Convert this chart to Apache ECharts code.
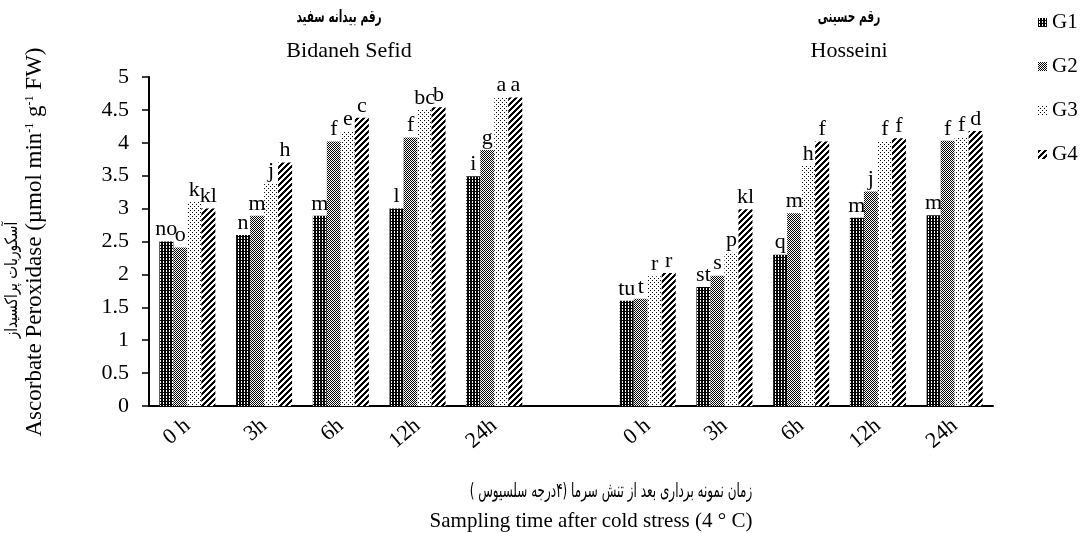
<!DOCTYPE html>
<html><head><meta charset="utf-8">
<script src="https://cdn.jsdelivr.net/npm/echarts@6/dist/echarts.min.js"></script>
<style>html,body{margin:0;padding:0;background:#fff}#c{width:1085px;height:533px}</style>
</head><body><div id="c"></div>
<script>
// ---- data ----
const timeLabels = ['0 h', '3h', '6h', '12h', '24h'];
const seriesNames = ['G1', 'G2', 'G3', 'G4'];
const yTicks = { min: 0, max: 5, interval: 0.5 };

const bidG1 = [2.50, 2.60, 2.89, 3.00, 3.49];
const bidG2 = [2.41, 2.89, 4.02, 4.08, 3.89];
const bidG3 = [3.10, 3.38, 4.18, 4.50, 4.69];
const bidG4 = [3.00, 3.70, 4.38, 4.54, 4.69];
const hosG1 = [1.60, 1.81, 2.30, 2.86, 2.90];
const hosG2 = [1.63, 1.98, 2.93, 3.26, 4.03];
const hosG3 = [1.97, 2.33, 3.65, 4.02, 4.08];
const hosG4 = [2.02, 2.99, 4.02, 4.07, 4.18];

const bidL1 = ['no', 'n', 'm', 'l', 'i'];
const bidL2 = ['o', 'm', 'f', 'f', 'g'];
const bidL3 = ['k', 'j', 'e', 'bc', 'a'];
const bidL4 = ['kl', 'h', 'c', 'b', 'a'];
const hosL1 = ['tu', 'st', 'q', 'm', 'm'];
const hosL2 = ['t', 's', 'm', 'j', 'f'];
const hosL3 = ['r', 'p', 'h', 'f', 'f'];
const hosL4 = ['r', 'kl', 'f', 'f', 'd'];

// ---- build ----
const categories = timeLabels.concat([''], timeLabels);
const vals = [[bidG1, hosG1], [bidG2, hosG2], [bidG3, hosG3], [bidG4, hosG4]];
const lets = [[bidL1, hosL1], [bidL2, hosL2], [bidL3, hosL3], [bidL4, hosL4]];

function pattern(kind) {
  const c = document.createElement('canvas');
  let n = kind === 'G4' ? 6 : (kind === 'G3' ? 4 : (kind === 'G2' ? 2 : 3));
  c.width = n; c.height = n;
  const ctx = c.getContext('2d');
  ctx.fillStyle = '#fff'; ctx.fillRect(0, 0, n, n);
  ctx.fillStyle = '#000';
  for (let x = 0; x < n; x++) for (let y = 0; y < n; y++) {
    let on = false;
    if (kind === 'G1') on = !((x === 1 && y === 1) || (x === 1 && y === 0));
    else if (kind === 'G2') on = (x + y) % 2 === 0;
    else if (kind === 'G3') on = (x === 0 && y === 0) || (x === 2 && y === 2);
    else on = ((x + y) % 6) < 3;
    if (on) ctx.fillRect(x, y, 1, 1);
  }
  return { image: c, repeat: 'repeat' };
}

const serif = 'Liberation Serif';
const series = seriesNames.map((nm, i) => {
  const v = vals[i][0].concat([null], vals[i][1]);
  const l = lets[i][0].concat([''], lets[i][1]);
  return {
    name: nm, type: 'bar', barWidth: 14, barGap: '0%',
    itemStyle: { color: pattern(nm) },
    label: {
      show: true, position: 'top', distance: 1,
      fontFamily: serif, fontSize: 22, color: '#000',
      formatter: p => l[p.dataIndex]
    },
    data: v
  };
});

function txt(x, y, text, font, extra) {
  return Object.assign({ type: 'text', x: x, y: y, style: Object.assign({
    text: text, font: font, fill: '#000',
    align: 'center', verticalAlign: 'middle', textAlign: 'center', textVerticalAlign: 'middle'
  }, (extra && extra.style) || {}) }, (extra && extra.el) || {});
}

const chart = echarts.init(document.getElementById('c'), null, { renderer: 'canvas' });
chart.setOption({
  animation: false,
  backgroundColor: '#fff',
  grid: { left: 149, right: 92, top: 77, bottom: 127 },
  legend: {
    orient: 'vertical', left: 1033, top: 7, itemWidth: 9, itemHeight: 9, itemGap: 23,
    icon: 'rect',
    textStyle: { fontFamily: serif, fontSize: 21, color: '#000' },
    data: seriesNames
  },
  xAxis: {
    type: 'category', data: categories,
    axisLine: { lineStyle: { color: '#000', width: 2 } },
    axisTick: { show: false },
    axisLabel: { interval: 0, rotate: 40, margin: 17, fontFamily: serif, fontSize: 22, color: '#000' }
  },
  yAxis: {
    type: 'value', min: yTicks.min, max: yTicks.max, interval: yTicks.interval,
    axisLine: { show: true, lineStyle: { color: '#000', width: 2 } },
    axisTick: { show: true, length: 7, lineStyle: { color: '#000', width: 1.5 } },
    splitLine: { show: false },
    axisLabel: { margin: 20, fontFamily: serif, fontSize: 22, color: '#000' }
  },
  graphic: [
    txt(339, 18, 'رقم بیدانه سفید', 'bold 17px "DejaVu Sans"', { el: { scaleX: 0.62 } }),
    txt(349, 51, 'Bidaneh Sefid', '22px "Liberation Serif"'),
    txt(849, 18, 'رقم حسینی', 'bold 17px "DejaVu Sans"', { el: { scaleX: 0.62 } }),
    txt(849, 51, 'Hosseini', '22px "Liberation Serif"'),
    txt(611, 492, 'زمان نمونه برداری بعد از تنش سرما (۴درجه سلسیوس )', '20px "DejaVu Sans"', { el: { scaleX: 0.6 } }),
    txt(591, 521, 'Sampling time after cold stress (4 ° C)', '21px "Liberation Serif"'),
    txt(13, 280, 'آسکوربات پراکسیداز', '17px "DejaVu Sans"', { el: { rotation: Math.PI / 2, scaleX: 0.8 } }),
    txt(35, 242, 'Ascorbate Peroxidase (µmol min{sup|-1} g{sup|-1} FW)', '23px "Liberation Serif"', {
      el: { rotation: Math.PI / 2 },
      style: { fontFamily: serif, fontSize: 23, rich: { sup: { fontFamily: serif, fontSize: 12, fill: '#000', verticalAlign: 'top' } } }
    })
  ],
  series: series
});
</script></body></html>
